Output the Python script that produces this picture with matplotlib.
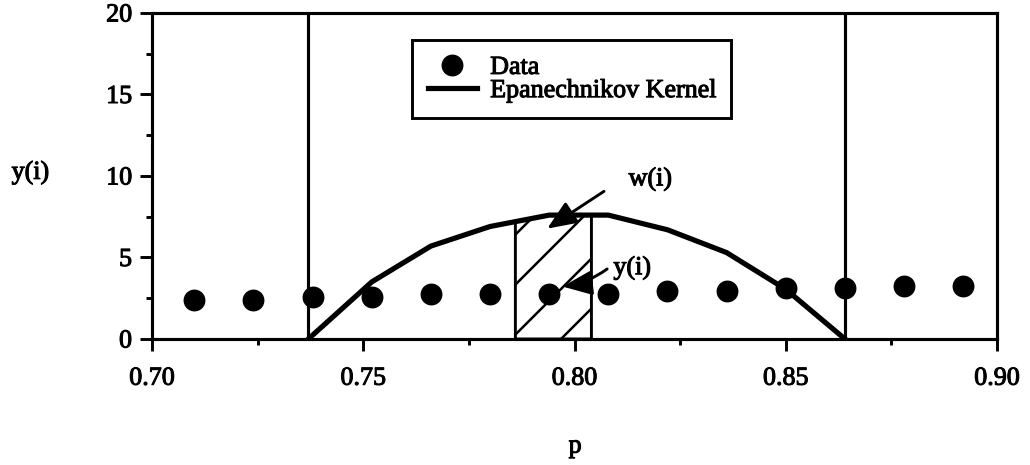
import matplotlib
matplotlib.use("Agg")
import matplotlib.pyplot as plt
import matplotlib.patheffects as pe
import numpy as np

# observed points
p_data = [0.710, 0.724, 0.738, 0.752, 0.766, 0.780, 0.794,
          0.808, 0.822, 0.836, 0.850, 0.864, 0.878, 0.892]
y_data = [2.40, 2.40, 2.55, 2.55, 2.75, 2.75, 2.75,
          2.75, 2.95, 2.95, 3.10, 3.10, 3.25, 3.25]

# kernel weights evaluated over the window
p_kernel = [0.737, 0.752, 0.766, 0.780, 0.794, 0.808, 0.822, 0.836, 0.850, 0.864]
w_kernel = [0.0, 3.5, 5.7, 6.9, 7.6, 7.6, 6.7, 5.3, 3.05, 0.0]

# window limits and the bin around point i
window = [0.737, 0.864]
bin_edges = [0.786, 0.804]

plt.rcParams['font.family'] = ['Liberation Serif', 'DejaVu Serif']
plt.rcParams['font.size'] = 12.5
plt.rcParams['hatch.linewidth'] = 1.2

fig = plt.figure(figsize=(1030 / 150, 466 / 150), dpi=150)
ax = fig.add_axes([0.1476, 0.2704, 0.8204, 0.6996])

# hatched bin under the kernel curve
xs = np.linspace(bin_edges[0], bin_edges[1], 30)
ax.fill_between(xs, 0, np.interp(xs, p_kernel, w_kernel), facecolor='white',
                edgecolor='black', hatch='/', linewidth=1.4, zorder=2)

for v in window:
    ax.axvline(v, color='black', linewidth=1.5, zorder=1)

ax.plot(p_kernel, w_kernel, color='black', linewidth=2.5, zorder=3,
        solid_joinstyle='round', label='Epanechnikov Kernel')
ax.plot(p_data, y_data, linestyle='none', marker='o', markersize=9.5,
        color='black', zorder=4, label='Data')

# arrows pointing at w(i) and y(i)
ax.annotate('', xy=(0.7927, 6.63), xytext=(0.8078, 9.2),
            arrowprops=dict(arrowstyle='-|>,head_length=0.6,head_width=0.25',
                            color='black', linewidth=1.4, mutation_scale=20),
            zorder=5)
ax.text(0.8128, 9.8, 'w(i)', ha='left', va='center')
ax.annotate('', xy=(0.7962, 3.19), xytext=(0.8085, 4.45),
            arrowprops=dict(arrowstyle='-|>,head_length=0.6,head_width=0.25',
                            color='black', linewidth=1.4, mutation_scale=20,
                            connectionstyle='arc3,rad=-0.15'),
            zorder=5)
ax.text(0.8092, 4.35, 'y(i)', ha='left', va='center')

ax.set_xlim(0.70, 0.90)
ax.set_ylim(0, 20)
ax.set_xticks([0.70, 0.75, 0.80, 0.85, 0.90])
ax.set_xticklabels(['0.70', '0.75', '0.80', '0.85', '0.90'])
ax.set_xticks([0.725, 0.775, 0.825, 0.875], minor=True)
ax.set_yticks([0, 5, 10, 15, 20])
ax.set_yticks([2.5, 7.5, 12.5, 17.5], minor=True)
ax.tick_params(which='major', direction='out', length=5.8, width=1.4)
ax.tick_params(which='minor', direction='out', length=2.9, width=1.4)
ax.tick_params(axis='x', pad=8)
ax.tick_params(axis='y', pad=3.8)
for s in ax.spines.values():
    s.set_linewidth(1.5)

ax.set_xlabel('p', va='center')
ax.xaxis.set_label_coords(0.5006, -0.33)
ax.set_ylabel('y(i)', rotation=0, va='center', ha='center')
ax.yaxis.set_label_coords(-0.144, 0.51)

handles, labels = ax.get_legend_handles_labels()
leg = ax.legend(handles[::-1], labels[::-1], loc='upper left',
                bbox_to_anchor=(0.3077, 0.917), borderaxespad=0,
                fancybox=False, framealpha=1, edgecolor='black',
                handlelength=1.9, handletextpad=0.5, borderpad=0.6,
                labelspacing=0.0, numpoints=1)
leg.get_frame().set_linewidth(1.4)

# slightly heavier glyphs
thick = [pe.withStroke(linewidth=0.5, foreground='black')]
texts = ax.get_xticklabels() + ax.get_yticklabels() + ax.texts + leg.get_texts()
texts += [ax.xaxis.label, ax.yaxis.label]
for t in texts:
    t.set_path_effects(thick)

fig.savefig('out.png', dpi=150)
